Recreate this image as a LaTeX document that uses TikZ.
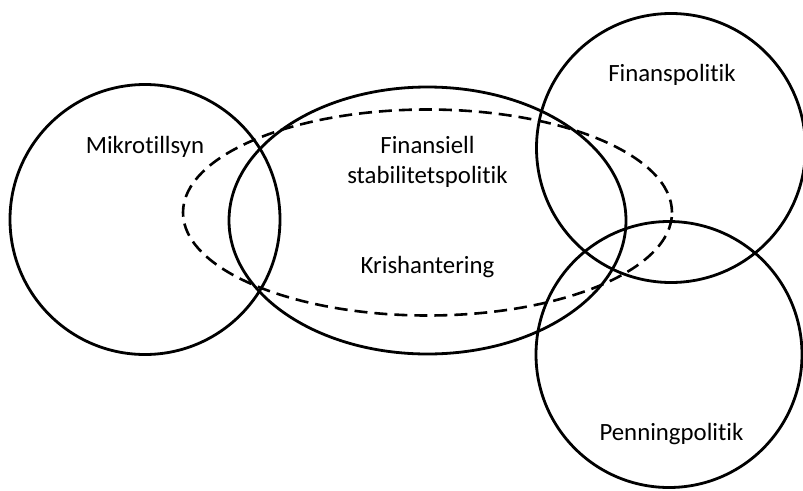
\documentclass[tikz,border=0pt]{standalone}
\usepackage{fontspec}
\setmainfont[Ligatures={NoCommon}]{Carlito}
\begin{document}
\begin{tikzpicture}[x=1pt,y=-1pt,
  ring/.style={draw=black,line width=2.8pt},
  dashring/.style={draw=black,line width=2.6pt,dash pattern=on 13pt off 7pt},
  lbl/.style={font=\fontsize{24.8}{30}\selectfont,inner sep=0pt,anchor=base,align=center}]
\useasboundingbox (0,0) rectangle (803,490);
% regions
\draw[ring] (145,219.5) circle [radius=135pt];
\draw[ring] (427.5,220.5) ellipse [x radius=198.5pt, y radius=133.5pt];
\draw[dashring] (427.5,212.5) ellipse [x radius=244.5pt, y radius=103pt];
\draw[ring] (671,148) circle [radius=134.5pt];
\draw[ring] (669,354.5) circle [radius=133pt];
% labels
\node[lbl] (mikro) at (145,153) {Mikrotillsyn};
\node[lbl] (fsp1) at (427.5,153) {Finansiell};
\node[lbl] (fsp2) at (427.5,183) {stabilitetspolitik};
\node[lbl] (kris) at (427.5,273) {Krishantering};
\node[lbl] (finans) at (672,81) {Finanspolitik};
\node[lbl] (penning) at (671.5,440) {Penningpolitik};
\end{tikzpicture}
\end{document}
